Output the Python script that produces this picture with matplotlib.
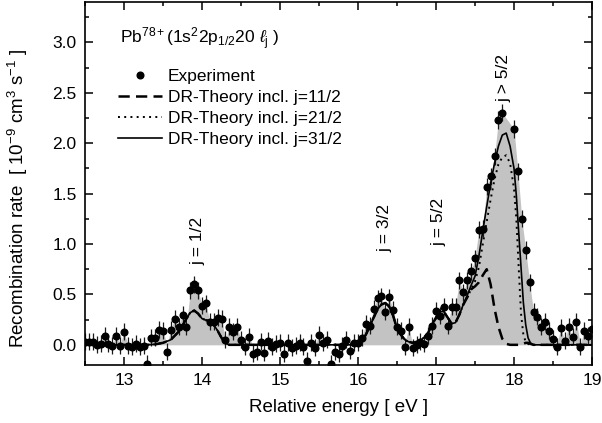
import matplotlib
matplotlib.use('Agg')
import matplotlib.pyplot as plt
import numpy as np
from matplotlib.ticker import MultipleLocator, FormatStrFormatter


# measured DR spectrum (points every ~0.05 eV)
exp_energy = [
    12.50, 12.55, 12.60, 12.65, 12.70, 12.75, 12.80, 12.85, 12.90, 12.95,
    13.00, 13.05, 13.10, 13.15, 13.20, 13.25, 13.30, 13.35, 13.40, 13.45,
    13.50, 13.55, 13.60, 13.65, 13.70, 13.75, 13.80, 13.85, 13.90, 13.95,
    14.00, 14.05, 14.10, 14.15, 14.20, 14.25, 14.30, 14.35, 14.40, 14.45,
    14.50, 14.55, 14.60, 14.65, 14.70, 14.75, 14.80, 14.85, 14.90, 14.95,
    15.00, 15.05, 15.10, 15.15, 15.20, 15.25, 15.30, 15.35, 15.40, 15.45,
    15.50, 15.55, 15.60, 15.65, 15.70, 15.75, 15.80, 15.85, 15.90, 15.95,
    16.00, 16.05, 16.10, 16.15, 16.20, 16.25, 16.30, 16.35, 16.40, 16.45,
    16.50, 16.55, 16.60, 16.65, 16.70, 16.75, 16.80, 16.85, 16.90, 16.95,
    17.00, 17.05, 17.10, 17.15, 17.20, 17.25, 17.30, 17.35, 17.40, 17.45,
    17.50, 17.55, 17.60, 17.65, 17.70, 17.75, 17.80, 17.85, 18.00, 18.05,
    18.10, 18.15, 18.20, 18.25, 18.30, 18.35, 18.40, 18.45, 18.50, 18.55,
    18.60, 18.65, 18.70, 18.75, 18.80, 18.85, 18.90, 18.95, 19.00,
]
exp_rate = [
    0.03, 0.03, 0.03, 0.00, 0.01, 0.09, 0.01, -0.01, 0.09, -0.01,
    0.13, -0.01, -0.02, 0.01, -0.02, -0.01, -0.19, 0.07, 0.07, 0.15,
    0.14, -0.07, 0.15, 0.26, 0.18, 0.30, 0.18, 0.54, 0.60, 0.54,
    0.39, 0.41, 0.23, 0.23, 0.27, 0.26, 0.05, 0.18, 0.13, 0.18,
    0.05, -0.02, 0.08, -0.09, -0.07, 0.03, -0.08, 0.04, -0.02, 0.01,
    0.02, -0.09, 0.02, -0.03, -0.01, 0.02, -0.02, -0.16, 0.02, -0.03,
    0.10, 0.02, 0.05, -0.19, -0.07, -0.09, -0.01, 0.05, -0.06, 0.02,
    0.02, 0.07, 0.21, 0.19, 0.36, 0.46, 0.48, 0.33, 0.47, 0.35,
    0.18, 0.14, -0.02, 0.18, -0.03, 0.00, 0.03, 0.01, 0.09, 0.19,
    0.34, 0.29, 0.38, 0.19, 0.38, 0.38, 0.64, 0.52, 0.64, 0.73,
    0.86, 1.14, 1.15, 1.57, 1.67, 1.87, 2.23, 2.30, 2.14, 1.72,
    1.25, 0.94, 0.62, 0.33, 0.28, 0.18, 0.23, 0.14, 0.06, -0.02,
    0.17, 0.04, 0.18, 0.08, 0.23, -0.02, 0.14, 0.09, 0.16,
]
exp_error = 0.085

# theory, part common to all three j cut-offs
theory_e_low = [
    12.5, 13.3, 13.4, 13.5, 13.6, 13.7, 13.75, 13.8, 13.85, 13.9,
    13.95, 14.0, 14.05, 14.1, 14.15, 14.2, 14.25, 14.3, 14.35, 15.9,
    16.0, 16.05, 16.1, 16.15, 16.2, 16.25, 16.3, 16.35, 16.4, 16.45,
    16.5, 16.55, 16.6, 16.65, 16.7, 16.75, 16.8, 16.85, 16.9, 16.95,
    17.0, 17.05, 17.1, 17.15, 17.2, 17.25, 17.3, 17.35,
]
theory_low = [
    0.0, 0.0, 0.005, 0.02, 0.05, 0.13, 0.19, 0.26, 0.32, 0.34,
    0.31, 0.26, 0.245, 0.235, 0.2, 0.14, 0.07, 0.015, 0.0, 0.0,
    0.01, 0.04, 0.1, 0.18, 0.27, 0.35, 0.40, 0.415, 0.38, 0.29,
    0.16, 0.10, 0.05, 0.03, 0.02, 0.03, 0.045, 0.075, 0.12, 0.20,
    0.27, 0.33, 0.33, 0.27, 0.21, 0.22, 0.30, 0.40,
]
# theory above 17.4 eV, where the j cut-off matters
theory_e_high = [
    17.4, 17.45, 17.5, 17.55, 17.6, 17.65, 17.7, 17.75, 17.8, 17.85,
    17.9, 17.95, 18.0, 18.03, 18.06, 18.09, 18.12, 18.15, 18.18, 18.21,
    18.25, 18.3, 19.0,
]
theory_j11 = [
    0.47, 0.55, 0.58, 0.62, 0.69, 0.75, 0.60, 0.36, 0.18, 0.06,
    0.01, 0.0, 0.0, 0.0, 0.0, 0.0, 0.01, 0.02, 0.02, 0.01,
    0.0, 0.0, 0.0,
]
theory_j21 = [
    0.47, 0.55, 0.63, 0.77, 1.0, 1.22, 1.44, 1.64, 1.79, 1.86,
    1.88, 1.80, 1.55, 1.25, 0.77, 0.31, 0.10, 0.03, 0.01, 0.0,
    0.0, 0.0, 0.0,
]
theory_j31 = [
    0.49, 0.59, 0.68, 0.88, 1.13, 1.37, 1.60, 1.80, 1.97, 2.08,
    2.10, 1.97, 1.75, 1.48, 1.12, 0.77, 0.42, 0.20, 0.07, 0.02,
    0.0, 0.0, 0.0,
]

peak_labels = ['j = 1/2', 'j = 3/2', 'j = 5/2', 'j > 5/2']

plt.rcParams['font.family'] = ['Liberation Sans', 'DejaVu Sans']
plt.rcParams['mathtext.fontset'] = 'custom'
plt.rcParams['mathtext.rm'] = 'Liberation Sans'
plt.rcParams['mathtext.it'] = 'Liberation Sans:italic'
plt.rcParams['mathtext.sf'] = 'Liberation Sans'

fig = plt.figure(figsize=(6.02, 4.23), dpi=100)
ax = fig.add_axes([85 / 602, 1 - 365 / 423, 507 / 602, 363 / 423])

e = np.array(exp_energy)
r = np.array(exp_rate)
th_e = np.concatenate([theory_e_low, theory_e_high])

ax.fill_between(e, 0, np.clip(r, 0, None), color='#c3c3c3', lw=0, zorder=1)
ax.errorbar(e, r, yerr=exp_error, fmt='none', ecolor='#1a1a1a',
            elinewidth=0.9, capsize=0, zorder=2)
ax.plot(e, r, 'o', color='black', ms=4.8, zorder=3, label='Experiment')
ax.plot(th_e, np.concatenate([theory_low, theory_j11]), color='black',
        lw=1.8, dashes=(4.5, 2.5), zorder=4, label='DR-Theory incl. j=11/2')
ax.plot(th_e, np.concatenate([theory_low, theory_j21]), color='black',
        lw=1.4, dashes=(1, 2.2), zorder=4, label='DR-Theory incl. j=21/2')
ax.plot(th_e, np.concatenate([theory_low, theory_j31]), color='black',
        lw=1.2, zorder=5, label='DR-Theory incl. j=31/2')

ax.set_xlim(12.5, 19)
ax.set_ylim(-0.2, 3.4)
ax.xaxis.set_major_locator(MultipleLocator(1))
ax.xaxis.set_minor_locator(MultipleLocator(0.5))
ax.yaxis.set_major_locator(MultipleLocator(0.5))
ax.yaxis.set_minor_locator(MultipleLocator(0.25))
ax.yaxis.set_major_formatter(FormatStrFormatter('%.1f'))
ax.tick_params(which='both', direction='in', top=True, right=True, width=1.1)
ax.tick_params(which='major', length=5.5, labelsize=12.5, pad=6)
ax.tick_params(which='minor', length=3)
for s in ax.spines.values():
    s.set_linewidth(1.2)

ax.set_xlabel('Relative energy [ eV ]', fontsize=13.5, va='top')
ax.xaxis.set_label_coords(0.5, -0.094)
ax.set_ylabel(r'Recombination rate  [ 10$^{-9}$ cm$^{3}$ s$^{-1}$ ]',
              fontsize=13.5, va='center')
ax.yaxis.set_label_coords(-0.132, 0.46)

ax.text(0.070, 0.886, r'Pb$^{78+}$(1s$^2$2p$_{1/2}$20 $\ell$$_{\rm j}$ )',
        transform=ax.transAxes, fontsize=12.5, va='baseline', ha='left')

ax.legend(loc='upper left', bbox_to_anchor=(0.066, 0.815), frameon=False,
          fontsize=12.5, borderpad=0, borderaxespad=0, handlelength=2.5,
          handletextpad=0.35, labelspacing=0.33)

label_pos = [(13.95, 1.03), (16.35, 1.16), (17.04, 1.22), (17.87, 2.65)]
for lab, (x, y) in zip(peak_labels, label_pos):
    ax.text(x, y, lab, rotation=90, ha='center', va='center', fontsize=12.5)

fig.savefig('out.png', dpi=100)
